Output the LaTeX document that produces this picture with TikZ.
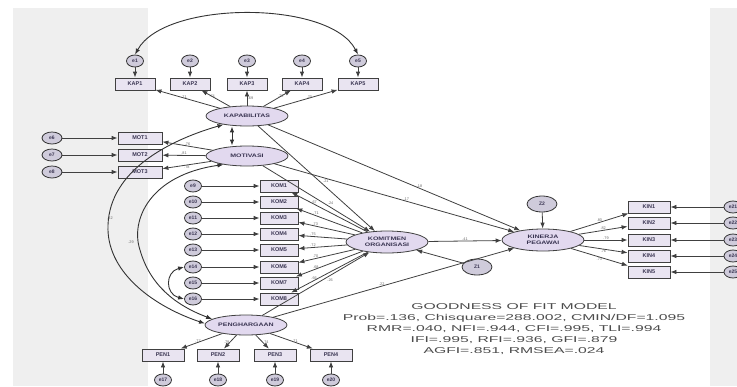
\documentclass[tikz,border=0pt]{standalone}
\usepackage{graphicx}
\usepackage{fontspec}
\setmainfont{Liberation Sans}
\usetikzlibrary{shapes,arrows.meta,positioning}
\definecolor{latfill}{HTML}{E2D9EF}
\definecolor{obsfill}{HTML}{E9E4F1}
\definecolor{errfill}{HTML}{CFCBDB}
\definecolor{pane}{HTML}{EFEFEF}
\definecolor{ink}{HTML}{3A3552}
\newcommand{\wide}[1]{\scalebox{1.4}[1]{#1}}

\begin{document}
\begin{tikzpicture}[
    x=1pt, y=-1pt,
    latent/.style={
        ellipse, draw=black!75, fill=latfill, text=ink,
        line width=0.8pt,
        minimum width=82pt, minimum height=20pt,
        inner sep=0pt, align=center,
        font=\fontsize{5}{5.5}\selectfont\bfseries
    },
    obs/.style={
        rectangle, draw=black!75, fill=obsfill, text=ink,
        line width=0.8pt,
        minimum width=40pt, minimum height=12pt,
        inner sep=0pt, font=\fontsize{5.5}{6}\selectfont\bfseries
    },
    err/.style={
        ellipse, draw=black!80, fill=errfill, text=ink,
        line width=0.8pt,
        minimum width=17pt, minimum height=12pt,
        inner sep=0pt, font=\fontsize{5}{5.5}\selectfont\bfseries
    },
    reg/.style={draw=black!75, line width=0.8pt, -{Latex[length=6pt,width=4.5pt]}},
    cov/.style={draw=black!80, line width=0.9pt,
        {Latex[length=6pt,width=4.5pt]}-{Latex[length=6pt,width=4.5pt]}},
    num/.style={font=\fontsize{3.8}{4}\selectfont, text=black!60, inner sep=0.5pt}
]
\useasboundingbox (0,0) rectangle (737,386);
\fill[pane] (13,8) rectangle (148,386);
\fill[pane] (710,8) rectangle (737,386);

% latent variables
\node[latent] (kap) at (247,116) {\wide{KAPABILITAS}};
\node[latent] (mot) at (247,156) {\wide{MOTIVASI}};
\node[latent] (pen) at (246,325) {\wide{PENGHARGAAN}};
\node[latent, minimum height=22pt] (kom) at (387,242) {\wide{KOMITMEN}\\\wide{ORGANISASI}};
\node[latent, minimum height=22pt] (kin) at (543,240) {\wide{KINERJA}\\\wide{PEGAWAI}};
\node[err, minimum width=30pt, minimum height=16pt] (z1) at (477,267) {Z1};
\node[err, minimum width=30pt, minimum height=16pt] (z2) at (542,204) {Z2};

% top indicators
\node[obs] (kap1) at (135,84) {KAP1};
\node[obs] (kap2) at (190,84) {KAP2};
\node[obs] (kap3) at (247,84) {KAP3};
\node[obs] (kap4) at (302,84) {KAP4};
\node[obs] (kap5) at (358,84) {KAP5};
\node[err] (e1) at (135,61) {e1};
\node[err] (e2) at (190,61) {e2};
\node[err] (e3) at (247,61) {e3};
\node[err] (e4) at (302,61) {e4};
\node[err] (e5) at (358,61) {e5};

% left indicators
\node[obs, minimum width=44pt] (mot1) at (140,138) {MOT1};
\node[obs, minimum width=44pt] (mot2) at (140,155) {MOT2};
\node[obs, minimum width=44pt] (mot3) at (140,172) {MOT3};
\node[err, minimum width=20pt] (e6) at (52,138) {e6};
\node[err, minimum width=20pt] (e7) at (52,155) {e7};
\node[err, minimum width=20pt] (e8) at (52,172) {e8};

% middle indicators
\node[obs, minimum width=38pt] (kom1) at (279,186) {KOM1};
\node[obs, minimum width=38pt] (kom2) at (279,202) {KOM2};
\node[obs, minimum width=38pt] (kom3) at (279,218) {KOM3};
\node[obs, minimum width=38pt] (kom4) at (279,234) {KOM4};
\node[obs, minimum width=38pt] (kom5) at (279,250) {KOM5};
\node[obs, minimum width=38pt] (kom6) at (279,267) {KOM6};
\node[obs, minimum width=38pt] (kom7) at (279,283) {KOM7};
\node[obs, minimum width=38pt] (kom8) at (279,299) {KOM8};
\node[err] (e9) at (193,186) {e9};
\node[err] (e10) at (193,202) {e10};
\node[err] (e11) at (193,218) {e11};
\node[err] (e12) at (193,234) {e12};
\node[err] (e13) at (193,250) {e13};
\node[err] (e14) at (193,267) {e14};
\node[err] (e15) at (193,283) {e15};
\node[err] (e16) at (193,299) {e16};

% bottom indicators
\node[obs, minimum width=42pt] (pen1) at (163,355) {PEN1};
\node[obs, minimum width=42pt] (pen2) at (218,355) {PEN2};
\node[obs, minimum width=42pt] (pen3) at (275,355) {PEN3};
\node[obs, minimum width=42pt] (pen4) at (331,355) {PEN4};
\node[err] (e17) at (163,380) {e17};
\node[err] (e18) at (218,380) {e18};
\node[err] (e19) at (275,380) {e19};
\node[err] (e20) at (331,380) {e20};

% right indicators
\node[obs, minimum width=42pt] (kin1) at (649,207) {KIN1};
\node[obs, minimum width=42pt] (kin2) at (649,223) {KIN2};
\node[obs, minimum width=42pt] (kin3) at (649,240) {KIN3};
\node[obs, minimum width=42pt] (kin4) at (649,256) {KIN4};
\node[obs, minimum width=42pt] (kin5) at (649,272) {KIN5};
\node[err, minimum width=18pt] (e21) at (733,207) {e21};
\node[err, minimum width=18pt] (e22) at (733,223) {e22};
\node[err, minimum width=18pt] (e23) at (733,240) {e23};
\node[err, minimum width=18pt] (e24) at (733,256) {e24};
\node[err, minimum width=18pt] (e25) at (733,272) {e25};

% error terms
\draw[reg] (e1) -- (kap1);
\draw[reg] (e2) -- (kap2);
\draw[reg] (e3) -- (kap3);
\draw[reg] (e4) -- (kap4);
\draw[reg] (e5) -- (kap5);
\draw[reg] (e6) -- (mot1);
\draw[reg] (e7) -- (mot2);
\draw[reg] (e8) -- (mot3);
\draw[reg] (e9) -- (kom1);
\draw[reg] (e10) -- (kom2);
\draw[reg] (e11) -- (kom3);
\draw[reg] (e12) -- (kom4);
\draw[reg] (e13) -- (kom5);
\draw[reg] (e14) -- (kom6);
\draw[reg] (e15) -- (kom7);
\draw[reg] (e16) -- (kom8);
\draw[reg] (e17) -- (pen1);
\draw[reg] (e18) -- (pen2);
\draw[reg] (e19) -- (pen3);
\draw[reg] (e20) -- (pen4);
\draw[reg] (e21) -- (kin1);
\draw[reg] (e22) -- (kin2);
\draw[reg] (e23) -- (kin3);
\draw[reg] (e24) -- (kin4);
\draw[reg] (e25) -- (kin5);

% loadings
\draw[reg] (kap) -- node[num, above left]{.71} (kap1);
\draw[reg] (kap) -- node[num, above left]{.74} (kap2);
\draw[reg] (kap) -- node[num, right]{.69} (kap3);
\draw[reg] (kap) -- node[num, above right]{.72} (kap4);
\draw[reg] (kap) -- node[num, above right]{.70} (kap5);
\draw[reg] (mot) -- node[num, above]{.76} (mot1);
\draw[reg] (mot) -- node[num, above]{.81} (mot2);
\draw[reg] (mot) -- node[num, below]{.78} (mot3);
\draw[reg] (kom) -- node[num, above, pos=0.7]{.67} (kom1);
\draw[reg] (kom) -- node[num, above, pos=0.7]{.71} (kom2);
\draw[reg] (kom) -- node[num, above, pos=0.7]{.73} (kom3);
\draw[reg] (kom) -- node[num, above, pos=0.7]{.75} (kom4);
\draw[reg] (kom) -- node[num, above, pos=0.7]{.72} (kom5);
\draw[reg] (kom) -- node[num, above, pos=0.7]{.70} (kom6);
\draw[reg] (kom) -- node[num, above, pos=0.7]{.68} (kom7);
\draw[reg] (kom) -- node[num, above, pos=0.7]{.66} (kom8);
\draw[reg] (pen) -- node[num, left]{.77} (pen1);
\draw[reg] (pen) -- node[num, left]{.79} (pen2);
\draw[reg] (pen) -- node[num, right]{.74} (pen3);
\draw[reg] (pen) -- node[num, right]{.71} (pen4);
\draw[reg] (kin) -- node[num, above]{.80} (kin1);
\draw[reg] (kin) -- node[num, above]{.82} (kin2);
\draw[reg] (kin) -- node[num, above]{.79} (kin3);
\draw[reg] (kin) -- node[num, below]{.76} (kin4);
\draw[reg] (kin) -- node[num, below]{.73} (kin5);

% structural paths
\draw[reg] (kap) -- node[num, above right, pos=0.55]{.21} (kom);
\draw[reg] (kap) -- node[num, above, pos=0.6]{.18} (kin);
\draw[reg] (mot) -- node[num, above right, pos=0.6]{.24} (kom);
\draw[reg] (mot) -- node[num, above, pos=0.55]{.17} (kin);
\draw[reg] (pen) -- node[num, below right, pos=0.6]{.26} (kom);
\draw[reg] (pen) -- node[num, above, pos=0.45]{.22} (kin);
\draw[reg] (kom) -- node[num, above]{.41} (kin);
\draw[reg] (z1) -- (kom);
\draw[reg] (z2) -- (kin);

% covariances
\draw[cov] (e1.north) .. controls (165,0) and (330,0) .. (e5.north);
\draw[cov] ([xshift=-15pt]kap.south) -- ([xshift=-15pt]mot.north);
\draw[cov] (kap.200) .. controls (170,140) and (110,170) .. (108,225)
    .. controls (106,270) and (150,305) .. (pen.178);
\draw[cov] (mot.200) .. controls (150,175) and (130,220) .. (140,250)
    .. controls (150,285) and (175,305) .. (pen.170);
\draw[cov] (e14.west) .. controls (165,272) and (165,294) .. (e16.west);
\node[num] (c1) at (110,218) {.32};
\node[num] (c2) at (131,242) {.29};

% goodness of fit
\node[font=\fontsize{8.5}{9}\selectfont, text=black!70, align=center, inner sep=0pt] (gof) at (514,329) {
    \scalebox{1.85}[1]{GOODNESS OF FIT MODEL}\\[2.2pt]
    \scalebox{1.85}[1]{Prob=.136, Chisquare=288.002, CMIN/DF=1.095}\\[2.2pt]
    \scalebox{1.85}[1]{RMR=.040, NFI=.944, CFI=.995, TLI=.994}\\[2.2pt]
    \scalebox{1.85}[1]{IFI=.995, RFI=.936, GFI=.879}\\[2.2pt]
    \scalebox{1.85}[1]{AGFI=.851, RMSEA=.024}};
\end{tikzpicture}
\end{document}
